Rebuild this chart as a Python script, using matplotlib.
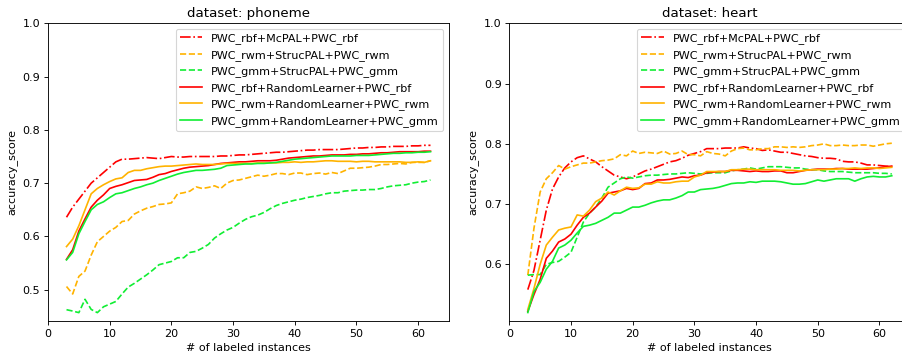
import matplotlib
matplotlib.use("Agg")
import matplotlib.pyplot as plt
import numpy as np

n_labeled = list(range(3, 63))

labels = [
    "PWC_rbf+McPAL+PWC_rbf",
    "PWC_rwm+StrucPAL+PWC_rwm",
    "PWC_gmm+StrucPAL+PWC_gmm",
    "PWC_rbf+RandomLearner+PWC_rbf",
    "PWC_rwm+RandomLearner+PWC_rwm",
    "PWC_gmm+RandomLearner+PWC_gmm",
]
colors = ["#ff0000", "#ffb300", "#11ee33", "#ff0000", "#ffb300", "#11ee33"]
styles = ["-.", "--", "--", "-", "-", "-"]

# ---- phoneme ----
ph_rbf_mcpal = [0.636, 0.655, 0.670, 0.685, 0.700, 0.710, 0.720, 0.730, 0.740, 0.745,
                0.745, 0.746, 0.747, 0.748, 0.747, 0.746, 0.748, 0.750, 0.749, 0.749,
                0.750, 0.750, 0.750, 0.750, 0.750, 0.751, 0.751, 0.752, 0.753, 0.753,
                0.754, 0.755, 0.756, 0.757, 0.758, 0.758, 0.759, 0.760, 0.761, 0.762,
                0.762, 0.763, 0.763, 0.763, 0.763, 0.764, 0.765, 0.766, 0.766, 0.767,
                0.767, 0.768, 0.768, 0.769, 0.769, 0.769, 0.770, 0.770, 0.771, 0.771]
ph_rwm_struc = [0.506, 0.492, 0.525, 0.535, 0.565, 0.590, 0.600, 0.610, 0.617, 0.628,
                0.630, 0.642, 0.648, 0.653, 0.656, 0.660, 0.661, 0.663, 0.680, 0.682,
                0.685, 0.693, 0.690, 0.692, 0.695, 0.690, 0.700, 0.705, 0.706, 0.709,
                0.712, 0.715, 0.713, 0.715, 0.718, 0.718, 0.716, 0.719, 0.719, 0.716,
                0.718, 0.719, 0.717, 0.720, 0.718, 0.723, 0.728, 0.728, 0.729, 0.730,
                0.732, 0.735, 0.735, 0.736, 0.737, 0.736, 0.739, 0.739, 0.739, 0.742]
ph_gmm_struc = [0.4625, 0.460, 0.457, 0.482, 0.463, 0.457, 0.468, 0.473, 0.478, 0.492,
                0.505, 0.512, 0.520, 0.528, 0.537, 0.547, 0.550, 0.553, 0.560, 0.560,
                0.570, 0.572, 0.578, 0.585, 0.597, 0.605, 0.612, 0.617, 0.625, 0.632,
                0.637, 0.640, 0.645, 0.652, 0.658, 0.662, 0.665, 0.668, 0.670, 0.673,
                0.675, 0.677, 0.680, 0.682, 0.682, 0.685, 0.686, 0.687, 0.687, 0.688,
                0.688, 0.690, 0.693, 0.695, 0.696, 0.697, 0.700, 0.702, 0.703, 0.706]
ph_rbf_rand = [0.557, 0.575, 0.610, 0.633, 0.655, 0.668, 0.678, 0.690, 0.694, 0.697,
               0.701, 0.705, 0.706, 0.707, 0.711, 0.716, 0.718, 0.722, 0.725, 0.728,
               0.730, 0.731, 0.732, 0.733, 0.735, 0.737, 0.738, 0.739, 0.740, 0.740,
               0.741, 0.742, 0.742, 0.742, 0.743, 0.745, 0.747, 0.748, 0.749, 0.750,
               0.751, 0.751, 0.752, 0.753, 0.753, 0.753, 0.754, 0.754, 0.755, 0.755,
               0.756, 0.757, 0.757, 0.758, 0.759, 0.759, 0.759, 0.759, 0.760, 0.760]
ph_rwm_rand = [0.581, 0.595, 0.620, 0.650, 0.680, 0.690, 0.697, 0.703, 0.708, 0.710,
               0.720, 0.724, 0.724, 0.727, 0.729, 0.731, 0.732, 0.732, 0.733, 0.734,
               0.735, 0.736, 0.735, 0.735, 0.735, 0.736, 0.737, 0.737, 0.737, 0.737,
               0.737, 0.738, 0.738, 0.738, 0.738, 0.739, 0.739, 0.740, 0.739, 0.740,
               0.740, 0.741, 0.742, 0.742, 0.741, 0.741, 0.741, 0.740, 0.741, 0.741,
               0.740, 0.740, 0.740, 0.740, 0.740, 0.739, 0.739, 0.740, 0.739, 0.742]
ph_gmm_rand = [0.556, 0.570, 0.605, 0.628, 0.650, 0.660, 0.665, 0.673, 0.680, 0.682,
               0.686, 0.690, 0.693, 0.697, 0.700, 0.705, 0.709, 0.713, 0.717, 0.720,
               0.722, 0.724, 0.724, 0.725, 0.726, 0.728, 0.733, 0.734, 0.735, 0.736,
               0.736, 0.737, 0.737, 0.738, 0.739, 0.741, 0.743, 0.745, 0.746, 0.747,
               0.748, 0.749, 0.750, 0.751, 0.751, 0.751, 0.751, 0.752, 0.752, 0.752,
               0.753, 0.754, 0.755, 0.756, 0.756, 0.757, 0.757, 0.758, 0.758, 0.759]

# ---- heart ----
he_rbf_mcpal = [0.558, 0.590, 0.640, 0.690, 0.725, 0.745, 0.760, 0.770, 0.777, 0.780,
                0.775, 0.770, 0.762, 0.755, 0.748, 0.745, 0.742, 0.745, 0.750, 0.755,
                0.758, 0.762, 0.766, 0.770, 0.772, 0.776, 0.781, 0.784, 0.787, 0.792,
                0.792, 0.792, 0.793, 0.793, 0.793, 0.795, 0.793, 0.792, 0.789, 0.790,
                0.788, 0.786, 0.786, 0.784, 0.782, 0.780, 0.779, 0.777, 0.776, 0.776,
                0.775, 0.771, 0.770, 0.770, 0.768, 0.765, 0.765, 0.764, 0.763, 0.762]
he_rwm_struc = [0.582, 0.660, 0.720, 0.742, 0.752, 0.764, 0.758, 0.762, 0.765, 0.768,
                0.768, 0.770, 0.772, 0.773, 0.775, 0.782, 0.780, 0.788, 0.784, 0.786,
                0.785, 0.784, 0.788, 0.783, 0.784, 0.788, 0.782, 0.782, 0.780, 0.787,
                0.784, 0.783, 0.780, 0.788, 0.792, 0.793, 0.790, 0.790, 0.792, 0.792,
                0.795, 0.795, 0.794, 0.795, 0.794, 0.795, 0.797, 0.798, 0.800, 0.797,
                0.797, 0.798, 0.797, 0.797, 0.798, 0.798, 0.796, 0.798, 0.800, 0.801]
he_gmm_struc = [0.582, 0.583, 0.583, 0.600, 0.603, 0.605, 0.612, 0.620, 0.645, 0.670,
                0.685, 0.695, 0.710, 0.728, 0.735, 0.742, 0.745, 0.743, 0.745, 0.747,
                0.748, 0.748, 0.749, 0.750, 0.750, 0.751, 0.752, 0.751, 0.750, 0.751,
                0.752, 0.752, 0.752, 0.755, 0.757, 0.758, 0.760, 0.758, 0.760, 0.762,
                0.762, 0.762, 0.761, 0.760, 0.760, 0.758, 0.757, 0.757, 0.755, 0.754,
                0.754, 0.754, 0.753, 0.752, 0.752, 0.752, 0.752, 0.751, 0.751, 0.750]
he_rbf_rand = [0.522, 0.550, 0.575, 0.610, 0.622, 0.637, 0.642, 0.650, 0.665, 0.678,
               0.685, 0.695, 0.705, 0.718, 0.720, 0.722, 0.726, 0.724, 0.726, 0.734,
               0.735, 0.740, 0.740, 0.741, 0.743, 0.745, 0.744, 0.747, 0.748, 0.752,
               0.753, 0.754, 0.754, 0.756, 0.756, 0.755, 0.754, 0.755, 0.754, 0.754,
               0.755, 0.755, 0.752, 0.752, 0.754, 0.756, 0.757, 0.758, 0.758, 0.758,
               0.759, 0.759, 0.758, 0.758, 0.758, 0.758, 0.759, 0.760, 0.762, 0.763]
he_rwm_rand = [0.525, 0.560, 0.600, 0.632, 0.645, 0.657, 0.660, 0.662, 0.682, 0.680,
               0.690, 0.704, 0.710, 0.720, 0.715, 0.722, 0.728, 0.726, 0.727, 0.733,
               0.733, 0.737, 0.735, 0.735, 0.737, 0.738, 0.738, 0.745, 0.748, 0.754,
               0.754, 0.754, 0.754, 0.757, 0.757, 0.758, 0.758, 0.757, 0.757, 0.757,
               0.757, 0.756, 0.756, 0.756, 0.755, 0.756, 0.757, 0.757, 0.757, 0.758,
               0.758, 0.759, 0.759, 0.760, 0.759, 0.760, 0.760, 0.759, 0.760, 0.761]
he_gmm_rand = [0.520, 0.555, 0.570, 0.592, 0.605, 0.627, 0.632, 0.640, 0.652, 0.663,
               0.665, 0.668, 0.673, 0.678, 0.685, 0.685, 0.690, 0.695, 0.695, 0.698,
               0.702, 0.705, 0.707, 0.707, 0.710, 0.714, 0.720, 0.720, 0.724, 0.725,
               0.726, 0.728, 0.731, 0.734, 0.735, 0.735, 0.737, 0.736, 0.738, 0.738,
               0.738, 0.737, 0.735, 0.733, 0.733, 0.734, 0.737, 0.740, 0.738, 0.740,
               0.742, 0.742, 0.742, 0.738, 0.742, 0.745, 0.746, 0.745, 0.745, 0.747]

datasets = [
    ("dataset: phoneme", [ph_rbf_mcpal, ph_rwm_struc, ph_gmm_struc,
                          ph_rbf_rand, ph_rwm_rand, ph_gmm_rand]),
    ("dataset: heart", [he_rbf_mcpal, he_rwm_struc, he_gmm_struc,
                        he_rbf_rand, he_rwm_rand, he_gmm_rand]),
]

plt.rcParams["font.family"] = ["DejaVu Sans"]
plt.rcParams["font.size"] = 10

DPI = 80
fig = plt.figure(figsize=(902 / DPI, 356 / DPI), dpi=DPI)
positions = [[48 / 902, 1 - 321 / 356, 401 / 902, (321 - 23.3) / 356],
             [509.3 / 902, 1 - 321 / 356, 401 / 902, (321 - 23.3) / 356]]

for pos, (title, series) in zip(positions, datasets):
    ax = fig.add_axes(pos)
    for vals, lab, col, ls in zip(series, labels, colors, styles):
        ax.plot(n_labeled, vals, color=col, linestyle=ls, linewidth=1.5, label=lab)
    ax.set_xlim(0, 65)
    ax.set_ylim(top=1.0)
    ax.set_title(title)
    ax.set_xlabel("# of labeled instances")
    ax.set_ylabel("accuracy_score")
    ax.legend(loc="upper right")

fig.savefig("out.png", dpi=DPI)
